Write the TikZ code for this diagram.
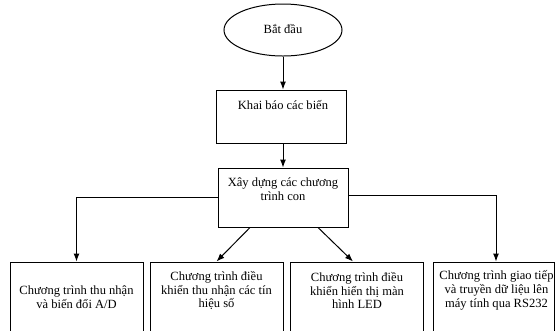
\documentclass[tikz,border=0pt]{standalone}
\usepackage{fontspec}
\setmainfont{Liberation Serif}
\usetikzlibrary{shapes.geometric,arrows.meta,calc}

\tikzset{every picture/.style={line width=0.75pt}}
\tikzset{
  hop/.style={draw,rectangle,minimum width=99.75pt,minimum height=60pt},
  chu/.style={font=\fontsize{9.4}{10.3}\selectfont,align=center},
  mui/.style={-{Latex[length=6pt,width=4.5pt]}}
}

\begin{document}
\begin{tikzpicture}[x=0.75pt,y=0.75pt,yscale=-1,xscale=1]
		\useasboundingbox (0,0) rectangle (558,330);
		\clip (0,0) rectangle (558,330);

		%Shape: Ellipse
		\node [draw,ellipse,minimum width=88.5pt,minimum height=39pt] (batdau) at (283,30) {};
		%Shape: Rectangle
		\node [draw,rectangle,minimum width=97.5pt,minimum height=39.75pt] (khaibao) at (281,116.5) {};
		%Shape: Rectangle
		\node [draw,rectangle,minimum width=97.5pt,minimum height=44.25pt] (xaydung) at (283,197.5) {};
		%Shape: Rectangle
		\node [hop] (ct1) at (76.5,302) {};
		%Shape: Rectangle
		\node [hop] (ct2) at (216.5,302) {};
		%Shape: Rectangle
		\node [hop] (ct3) at (357,302) {};
		%Shape: Rectangle
		\node [hop,minimum width=90.75pt] (ct4) at (493.5,302) {};

		%Straight Lines
		\draw [mui] (batdau.south) -- (batdau.south |- khaibao.north);
		\draw [mui] (khaibao.south -| xaydung.north) -- (xaydung.north);
		\draw [mui] (xaydung.west) -| (ct1.north);
		\draw [mui] ($(xaydung.south)+(-33,0)$) -- (ct2.north);
		\draw [mui] ($(xaydung.south)+(35,0)$) -- ($(ct3.north)+(-4,0)$);
		\draw [mui] ($(xaydung.east)+(0,-2)$) -| ($(ct4.north)+(2.5,0)$);

		% Text Node
		\node [chu] (tbatdau) at (283,29) {Bắt đầu};
		% Text Node
		\node [chu] (tkhaibao) at (283,105) {Khai báo các biến};
		% Text Node
		\node [chu] (txaydung) at (283,189.5) {Xây dựng các chương\\trình con};
		% Text Node
		\node [chu] (tct1) at (76.5,297) {Chương trình thu nhận\\và biến đổi A/D};
		% Text Node
		\node [chu] (tct2) at (216.5,290.5) {Chương trình điều\\khiển thu nhận các tín\\hiệu số};
		% Text Node
		\node [chu] (tct3) at (357,290.5) {Chương trình điều\\khiển hiển thị màn\\hình LED};
		% Text Node
		\node [chu] (tct4) at (496.5,290.5) {Chương trình giao tiếp\\và truyền dữ liệu lên\\máy tính qua RS232};

\end{tikzpicture}
\end{document}
